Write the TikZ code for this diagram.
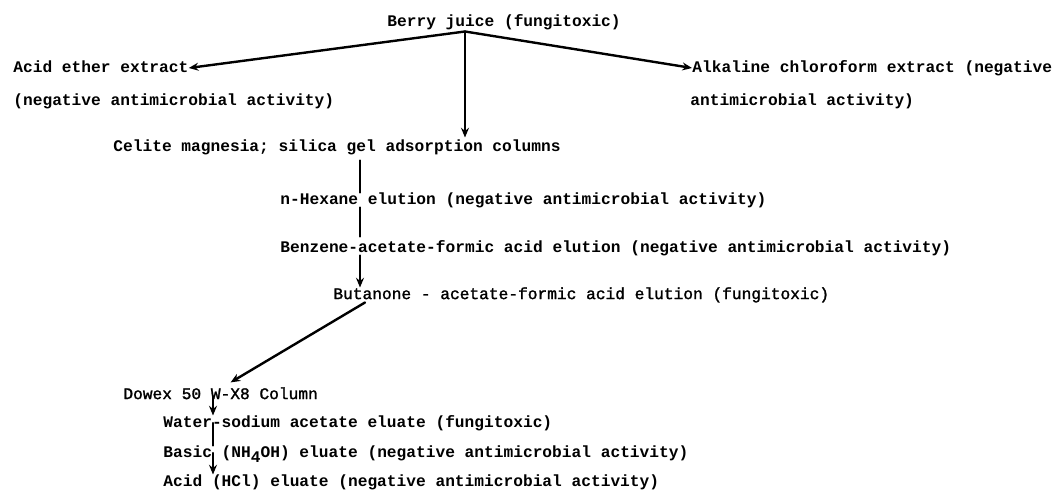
\documentclass[tikz,border=0pt]{standalone}
\usepackage{fontspec}
\setmonofont{Liberation Mono}
\newfontfamily\medmono{Liberation Mono}[FakeBold=1.5]
\usetikzlibrary{arrows.meta,positioning}

\begin{document}
\begin{tikzpicture}[x=0.5pt,y=-0.5pt]
\tikzset{
  stepnode/.style={anchor=west,inner sep=0pt,text height=5.6pt,text depth=1.5pt,font=\ttfamily\bfseries\fontsize{8.1}{9}\selectfont},
  plainnode/.style={stepnode,font=\medmono\fontsize{8.1}{9}\selectfont},
  graphedge/.style={draw=black,line width=1.2pt,line cap=round,line join=round},
  directed/.style={graphedge,-{Stealth[length=1.7mm,width=1.4mm]}},
  undirected/.style={graphedge}
}
\fill[white] (0,0) rectangle (1056,497);
\useasboundingbox (0,0) rectangle (1056,497);
\node[stepnode] (n_berry) at (387,22) {Berry juice (fungitoxic)};
\node[stepnode] (n_acid) at (13,68) {Acid ether extract};
\node[stepnode] (n_acidneg) at (13,101) {(negative antimicrobial activity)};
\node[stepnode] (n_alk) at (692,68) {Alkaline chloroform extract (negative};
\node[stepnode] (n_alkneg) at (690,101) {antimicrobial activity)};
\node[stepnode] (n_celite) at (113,147) {Celite magnesia; silica gel adsorption columns};
\node[stepnode] (n_hexane) at (280,200) {n-Hexane elution (negative antimicrobial activity)};
\node[stepnode] (n_benzene) at (280,248) {Benzene-acetate-formic acid elution (negative antimicrobial activity)};
\node[plainnode] (n_butanone) at (333,295) {Butanone - acetate-formic acid elution (fungitoxic)};
\node[plainnode] (n_dowex) at (123,395) {Dowex 50 W-X8 Column};
\node[stepnode] (n_water) at (163,423) {Water-sodium acetate eluate (fungitoxic)};
\node[stepnode] (n_basic) at (163,453) {Basic (NH\raisebox{-0.6ex}{4}OH) eluate (negative antimicrobial activity)};
\node[stepnode] (n_hcl) at (163,482) {Acid (HCl) eluate (negative antimicrobial activity)};
\coordinate (j_berry) at ([xshift=39pt,yshift=-1pt]n_berry.south west);
\coordinate (c_col) at (360,0);
\coordinate (c_dia) at (365,0);
\coordinate (c_dw) at (222,0);
\coordinate (c_ion) at (213,0);
\draw[directed] (j_berry) -- (n_acid.east);
\draw[directed] (j_berry) -- (n_alk.west);
\draw[directed,shorten >=1pt] (j_berry) -- (n_celite.north -| j_berry);
\draw[undirected,shorten <=3pt] (n_celite.south -| c_col) -- (n_hexane.north -| c_col);
\draw[undirected,shorten >=2pt] (n_hexane.south -| c_col) -- (n_benzene.north -| c_col);
\draw[directed] (n_benzene.south -| c_col) -- (n_butanone.north -| c_col);
\draw[directed,shorten >=5pt] (n_butanone.south -| c_dia) -- (n_dowex.north -| c_dw);
\draw[directed,shorten <=-3pt] (n_dowex.south -| c_ion) -- (n_water.north -| c_ion);
\draw[undirected] (n_water.west -| c_ion) -- (n_basic.north -| c_ion);
\draw[directed] (n_basic.west -| c_ion) -- (n_hcl.north -| c_ion);
\end{tikzpicture}
\end{document}
